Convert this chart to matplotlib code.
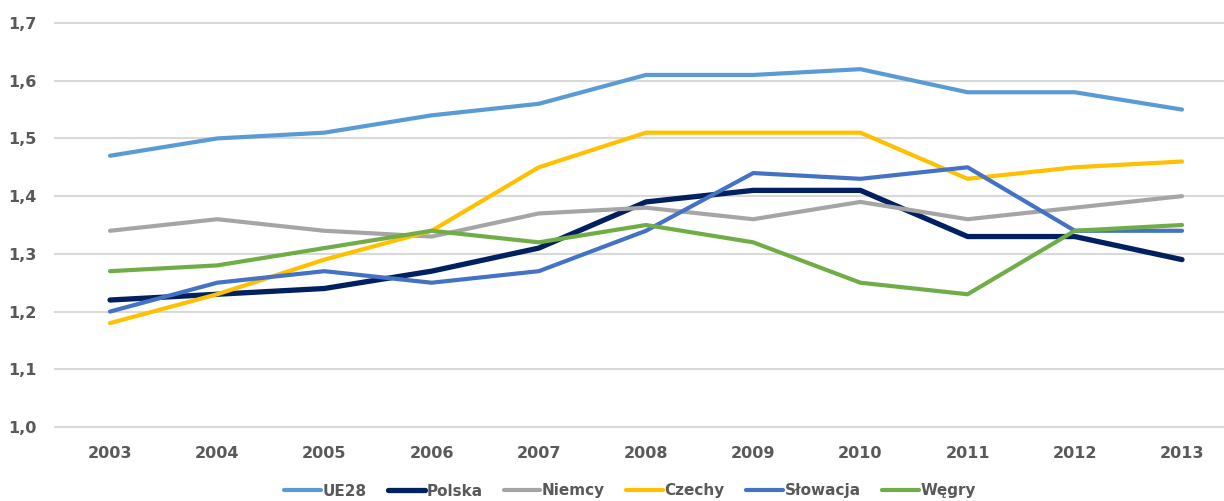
import matplotlib.pyplot as plt
from matplotlib.ticker import FuncFormatter

years = ['2003', '2004', '2005', '2006', '2007', '2008', '2009', '2010', '2011', '2012', '2013']
ue28 = [1.47, 1.50, 1.51, 1.54, 1.56, 1.61, 1.61, 1.62, 1.58, 1.58, 1.55]
polska = [1.22, 1.23, 1.24, 1.27, 1.31, 1.39, 1.41, 1.41, 1.33, 1.33, 1.29]
niemcy = [1.34, 1.36, 1.34, 1.33, 1.37, 1.38, 1.36, 1.39, 1.36, 1.38, 1.40]
czechy = [1.18, 1.23, 1.29, 1.34, 1.45, 1.51, 1.51, 1.51, 1.43, 1.45, 1.46]
slowacja = [1.20, 1.25, 1.27, 1.25, 1.27, 1.34, 1.44, 1.43, 1.45, 1.34, 1.34]
wegry = [1.27, 1.28, 1.31, 1.34, 1.32, 1.35, 1.32, 1.25, 1.23, 1.34, 1.35]

series = [
    ('UE28', ue28, '#5B9BD5', 3.0),
    ('Polska', polska, '#002060', 3.8),
    ('Niemcy', niemcy, '#A5A5A5', 3.0),
    ('Czechy', czechy, '#FFC000', 3.0),
    ('Słowacja', slowacja, '#4472C4', 3.0),
    ('Węgry', wegry, '#70AD47', 3.0),
]

W, H = 1224, 501
fig = plt.figure(figsize=(W / 100, H / 100), dpi=100, facecolor='white')
ax = fig.add_axes([55 / W, (H - 427) / H, (W - 55) / W, (427 - 23) / H])

x = list(range(len(years)))
for name, vals, col, lw in series:
    ax.plot(x, vals, color=col, lw=lw, label=name, solid_capstyle='round', solid_joinstyle='round', zorder=3)

ax.set_ylim(1.0, 1.7)
ax.set_yticks([1.0, 1.1, 1.2, 1.3, 1.4, 1.5, 1.6, 1.7])
ax.yaxis.set_major_formatter(FuncFormatter(lambda v, p: ('%.1f' % v).replace('.', ',')))
ax.set_xlim(-(110 - 55) / 107.2, (W - 110) / 107.2)
ax.set_xticks(x)
ax.set_xticklabels(years)
ax.grid(axis='y', color='#D9D9D9', lw=1.5, zorder=0)
ax.set_axisbelow(True)
for s in ax.spines.values():
    s.set_visible(False)
ax.tick_params(length=0, labelsize=11.5, labelcolor='#595959')
ax.tick_params(axis='x', pad=14)
ax.tick_params(axis='y', pad=13.5)
for lab in ax.get_xticklabels() + ax.get_yticklabels():
    lab.set_fontweight('bold')
for gl in ax.get_ygridlines():
    gl.set_clip_on(False)

fig.legend(loc='center', bbox_to_anchor=(630 / W, (H - 491) / H), ncol=6, frameon=False,
           handlelength=2.4, handletextpad=0.1, columnspacing=1.4,
           prop={'size': 11, 'weight': 'bold'}, labelcolor='#595959')

fig.savefig('out.png', dpi=100, facecolor='white')
